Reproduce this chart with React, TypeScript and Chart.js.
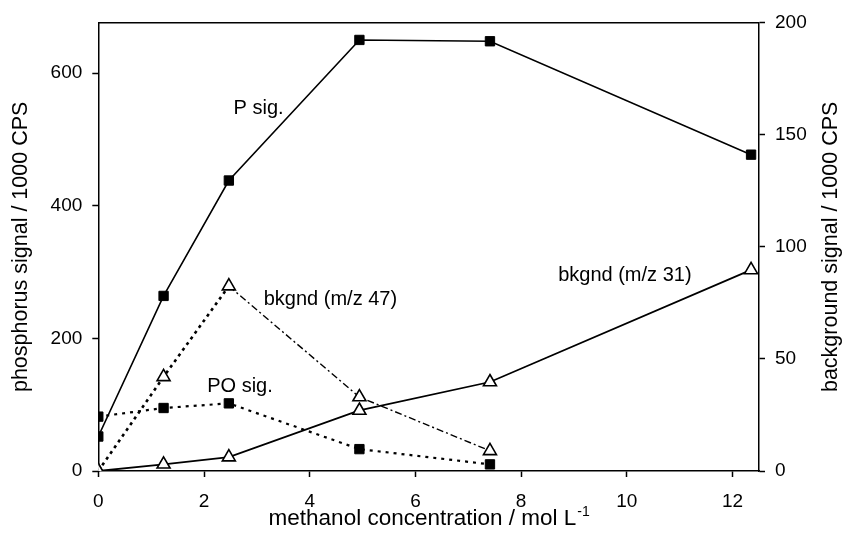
import React, { useEffect, useRef } from "react";
import { Chart, registerables } from "chart.js";

Chart.register(...registerables);

// ---- data ----
const concentration = [0, 1.235, 2.47, 4.94, 7.41, 12.35];
const pSignal = [52, 264, 438, 650, 648, 477];
const poSignal = [82, 95, 102, 33, 10];
const bkgnd47 = [0, 42, 82.5, 33, 9];
const bkgnd31 = [0, 3, 6.2, 27, 39.7, 89.7];

const xTicks = [0, 2, 4, 6, 8, 10, 12];
const leftTicks = [0, 200, 400, 600];
const rightTicks = [0, 50, 100, 150, 200];

const seriesNames = ["P sig.", "PO sig.", "bkgnd (m/z 47)", "bkgnd (m/z 31)"];

const FONT = "'Liberation Sans', Arial, Helvetica, sans-serif";

function pts(xs: number[], ys: number[]) {
  return ys.map((y, i) => ({ x: xs[i], y }));
}

const annotationPlugin = {
  id: "annotationsAndFrame",
  afterDraw(chart: any) {
    const { ctx, chartArea: a, scales } = chart;
    const opts = chart.options.plugins.annotationsAndFrame;
    ctx.save();
    // top frame line
    ctx.strokeStyle = "#000";
    ctx.lineWidth = 1.5;
    ctx.beginPath();
    ctx.moveTo(a.left, a.top);
    ctx.lineTo(a.right, a.top);
    ctx.stroke();

    // series labels placed in data coordinates
    ctx.fillStyle = "#000";
    ctx.font = `20px ${FONT}`;
    ctx.textAlign = "left";
    ctx.textBaseline = "alphabetic";
    opts.labels.forEach((l: any) => {
      const px = scales.x.getPixelForValue(l.x);
      const py = scales.y.getPixelForValue(l.y);
      ctx.fillText(l.text, px, py);
    });

    // x axis title with superscript
    const main = "methanol concentration / mol L";
    const sup = "-1";
    ctx.font = `22.5px ${FONT}`;
    const wMain = ctx.measureText(main).width;
    ctx.font = `14px ${FONT}`;
    const wSup = ctx.measureText(sup).width;
    const cx = (a.left + a.right) / 2;
    const startX = cx - (wMain + wSup) / 2;
    const baseY = a.bottom + 54;
    ctx.font = `22.5px ${FONT}`;
    ctx.fillText(main, startX, baseY);
    ctx.font = `14px ${FONT}`;
    ctx.fillText(sup, startX + wMain + 1, baseY - 9);

    // y titles
    ctx.font = `21.5px ${FONT}`;
    ctx.textAlign = "center";
    const cy = (a.top + a.bottom) / 2;
    ctx.save();
    ctx.translate(27, cy);
    ctx.rotate(-Math.PI / 2);
    ctx.fillText("phosphorus signal / 1000 CPS", 0, 0);
    ctx.restore();
    ctx.save();
    ctx.translate(837, cy);
    ctx.rotate(-Math.PI / 2);
    ctx.fillText("background signal / 1000 CPS", 0, 0);
    ctx.restore();

    ctx.restore();
  },
};

export default function App() {
  const ref = useRef<HTMLCanvasElement | null>(null);

  useEffect(() => {
    document.body.style.margin = "0";
    const canvas = ref.current;
    if (!canvas) return;

    const tickFont = { family: FONT, size: 19 };
    const grid = {
      display: true,
      drawOnChartArea: false,
      drawTicks: true,
      tickLength: 6,
      tickWidth: 1.5,
      color: "#000",
    };
    const border = { display: true, color: "#000", width: 1.5 };

    const chart = new Chart(canvas, {
      type: "line",
      data: {
        datasets: [
          {
            label: seriesNames[0],
            data: pts(concentration, pSignal),
            yAxisID: "y",
            borderColor: "#000",
            borderWidth: 1.6,
            pointStyle: "rect",
            pointRadius: 6.6,
            pointBackgroundColor: "#000",
            pointBorderColor: "#000",
            pointBorderWidth: 1,
            tension: 0,
          },
          {
            label: seriesNames[1],
            data: pts(concentration, poSignal),
            yAxisID: "y",
            borderColor: "#000",
            borderWidth: 2.2,
            borderDash: [3, 5],
            pointStyle: "rect",
            pointRadius: 6.6,
            pointBackgroundColor: "#000",
            pointBorderColor: "#000",
            pointBorderWidth: 1,
            tension: 0,
          },
          {
            label: seriesNames[2],
            data: pts(concentration, bkgnd47),
            yAxisID: "y2",
            borderColor: "#000",
            borderWidth: 2.5,
            borderDash: [3, 4],
            segment: {
              borderDash: (c: any) => (c.p0DataIndex >= 2 ? [7, 3, 2, 3] : [3, 4]),
              borderWidth: (c: any) => (c.p0DataIndex >= 2 ? 1.4 : 2.6),
            },
            pointStyle: "triangle",
            pointRadius: 7.5,
            pointBackgroundColor: "#fff",
            pointBorderColor: "#000",
            pointBorderWidth: 1.6,
            tension: 0,
          },
          {
            label: seriesNames[3],
            data: pts(concentration, bkgnd31),
            yAxisID: "y2",
            borderColor: "#000",
            borderWidth: 1.8,
            pointStyle: "triangle",
            pointRadius: 7.5,
            pointBackgroundColor: "#fff",
            pointBorderColor: "#000",
            pointBorderWidth: 1.6,
            tension: 0,
          },
        ],
      },
      options: {
        animation: false,
        responsive: false,
        events: [],
        layout: { padding: { top: 22.7, left: 0, right: 0, bottom: 0 } },
        plugins: {
          legend: { display: false },
          tooltip: { enabled: false },
          annotationsAndFrame: {
            labels: [
              { text: seriesNames[0], x: 2.56, y: 538.7 },
              { text: seriesNames[1], x: 2.06, y: 119.4 },
              { text: seriesNames[2], x: 3.13, y: 250.3 },
              { text: seriesNames[3], x: 8.7, y: 286.6 },
            ],
          },
        } as any,
        scales: {
          x: {
            type: "linear",
            position: "bottom",
            min: 0,
            max: 12.5,
            grid,
            border,
            afterBuildTicks: (s: any) => {
              s.ticks = xTicks.map((v) => ({ value: v }));
            },
            afterFit: (s: any) => {
              s.height = 64;
            },
            ticks: { color: "#000", font: tickFont, padding: 13, maxRotation: 0, autoSkip: false },
          },
          y: {
            type: "linear",
            position: "left",
            min: 0,
            max: 676,
            grid,
            border,
            afterBuildTicks: (s: any) => {
              s.ticks = leftTicks.map((v) => ({ value: v }));
            },
            afterFit: (s: any) => {
              s.width = 98.3;
            },
            ticks: { color: "#000", font: tickFont, padding: 10 },
          },
          y2: {
            type: "linear",
            position: "right",
            min: 0,
            max: 200,
            grid,
            border,
            afterBuildTicks: (s: any) => {
              s.ticks = rightTicks.map((v) => ({ value: v }));
            },
            afterFit: (s: any) => {
              s.width = 844 - 759;
            },
            ticks: { color: "#000", font: tickFont, padding: 10 },
          },
        },
      } as any,
      plugins: [annotationPlugin],
    });

    return () => chart.destroy();
  }, []);

  return (
    <div style={{ width: 844, height: 535, background: "#fff" }}>
      <canvas ref={ref} width={844} height={535} />
    </div>
  );
}
